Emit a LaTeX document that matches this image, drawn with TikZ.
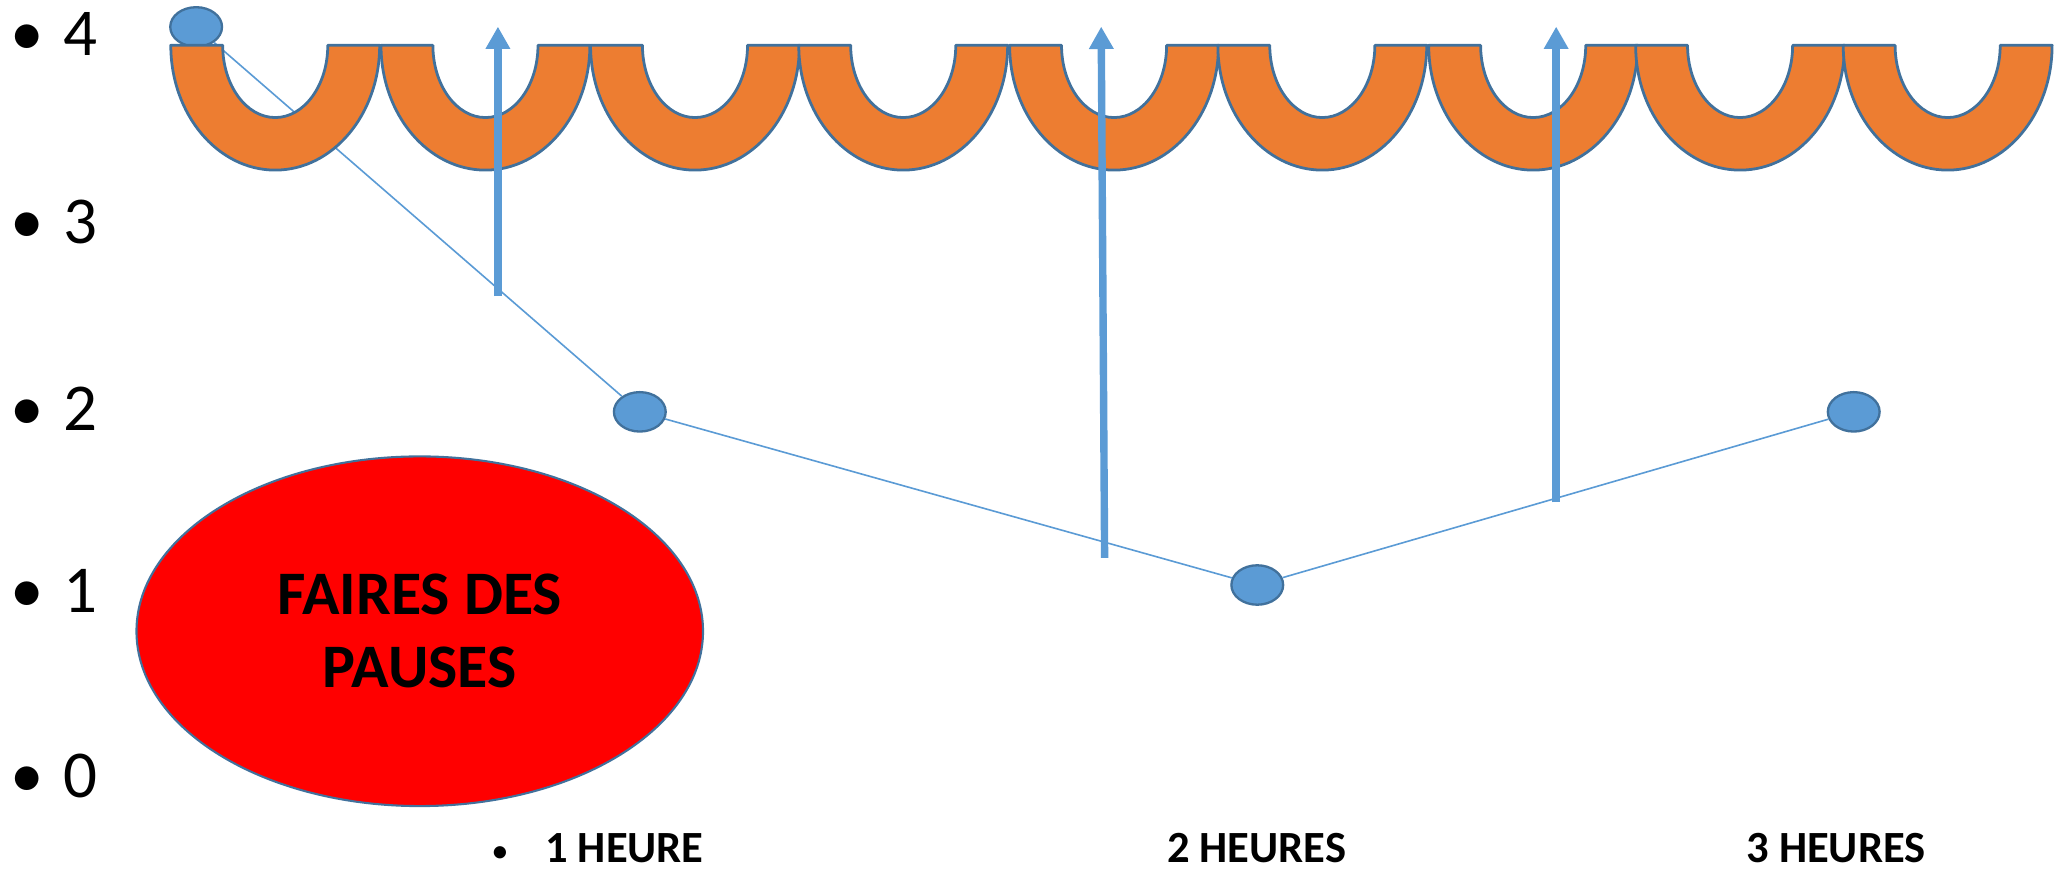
\documentclass[tikz,border=0pt]{standalone}
\usepackage{fontspec}
\setmainfont{Carlito}
\usetikzlibrary{arrows.meta,shapes.geometric}
\definecolor{archfill}{HTML}{ED7D31}
\definecolor{edgeblue}{HTML}{41719C}
\definecolor{lightblue}{HTML}{5B9BD5}
\begin{document}
\begin{tikzpicture}[x=0.01cm,y=0.01cm,
  dot/.style={ellipse, fill=lightblue, draw=edgeblue, line width=0.5pt,
    minimum width=0.394cm, minimum height=0.30cm, inner sep=0pt},
  link/.style={draw=lightblue, line width=0.35pt},
  archshape/.style={fill=archfill, draw=edgeblue, line width=0.6pt, line join=round},
  uparrow/.style={draw=lightblue, line width=1.6pt,
    -{Triangle[length=0.17cm,width=0.178cm]}},
  axisnum/.style={font=\fontsize{14.5}{17}\selectfont, inner sep=0pt, anchor=base},
  hourlbl/.style={font=\bfseries\fontsize{9.65}{11}\selectfont, inner sep=0pt, anchor=base},
  hourbullet/.style={font=\fontsize{7.5}{9}\selectfont, inner sep=0pt, anchor=base},
  pausebox/.style={ellipse, fill=red, draw=edgeblue, line width=0.45pt,
    minimum width=4.31cm, minimum height=2.66cm, inner sep=0pt, align=center,
    font=\bfseries\fontsize{13.4}{15.85}\selectfont}]
\useasboundingbox (0,0) rectangle (1568,664.5);

% dots
\node[dot] (A) at (149.3,644) {};
\node[dot] (B) at (487,351) {};
\node[dot] (C) at (957,219.2) {};
\node[dot] (D) at (1411,351) {};

% thin links (behind the arches)
\draw[link] (A) -- (B);
\draw[link] (B) -- (C);
\draw[link] (C) -- (D);

% arches
\foreach \L in {130,290,449.5,608,768.5,927,1087.5,1245,1403}{
  \draw[archshape] (\L,630) -- ++(39.5,0)
    arc[start angle=180,end angle=360,x radius=40,y radius=55]
    -- ++(39.5,0)
    arc[start angle=0,end angle=-180,x radius=79.5,y radius=95] -- cycle;
}

% vertical arrows
\coordinate (a1s) at (379,439);
\coordinate (a1e) at (379,644.2);
\coordinate (a2s) at (840.8,239.8);
\coordinate (a2e) at (838.2,644.2);
\coordinate (a3s) at (1184.5,282);
\coordinate (a3e) at (1184.5,644.2);
\draw[uparrow] (a1s) -- (a1e);
\draw[uparrow] (a2s) -- (a2e);
\draw[uparrow] (a3s) -- (a3e);

% red ellipse
\node[pausebox] (P) at (319.5,184) {FAIRES DES\\PAUSES};

% axis labels
\foreach \n/\yb in {4/622.1,3/479,2/337,1/198,0/57.5}{
  \node[axisnum] (b\n) at (20.7,\yb) {•};
  \node[axisnum] (n\n) at (61.2,\yb) {\n};
}

% hour labels
\node[hourbullet] (hb) at (380.5,8) {•};
\node[hourlbl] (h1) at (475.3,8) {1 HEURE};
\node[hourlbl] (h2) at (956.5,8) {2 HEURES};
\node[hourlbl] (h3) at (1397.5,8) {3 HEURES};
\end{tikzpicture}
\end{document}
